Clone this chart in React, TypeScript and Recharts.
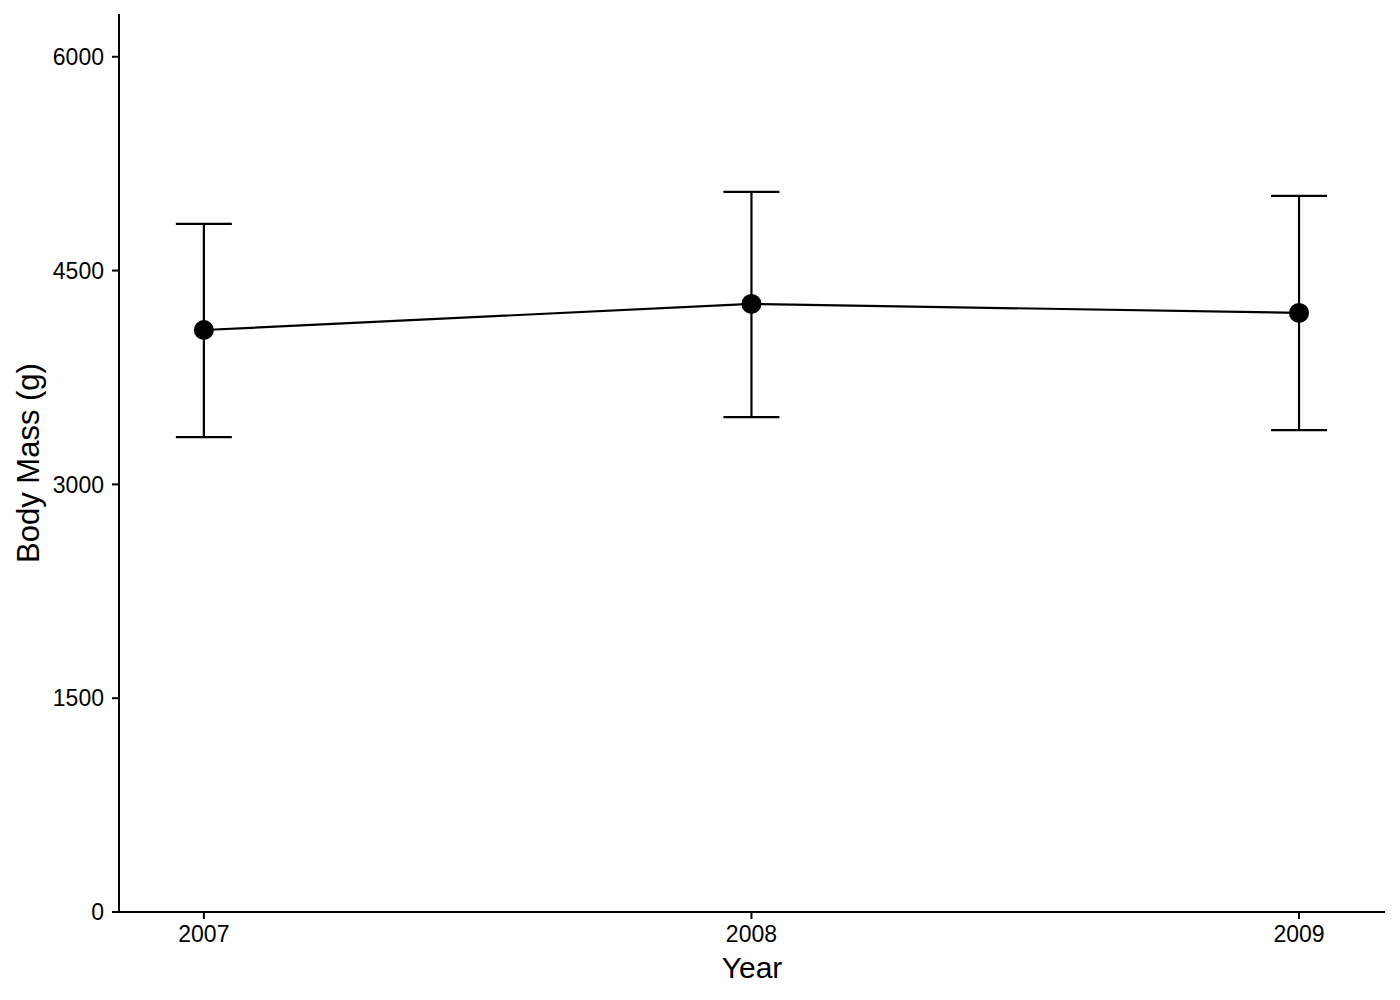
import { CartesianGrid, ComposedChart, ErrorBar, Line, XAxis, YAxis } from "recharts";

const years = [2007, 2008, 2009];
const meanMass = [4083, 4266, 4203];
const lowerMass = [3332, 3472, 3381];
const upperMass = [4828, 5052, 5024];

const yTicks = [0, 1500, 3000, 4500, 6000];

const data = years.map((year, i) => ({
  year,
  mass: meanMass[i],
  err: [meanMass[i] - lowerMass[i], upperMass[i] - meanMass[i]],
}));

const font = "'Liberation Sans', Arial, sans-serif";

export default function App() {
  return (
    <div style={{ position: "absolute", left: 0, top: 0, background: "#fff" }}>
      <ComposedChart
        width={1400}
        height={1000}
        data={data}
        margin={{ top: 14, right: 15, bottom: 28, left: 0 }}
      >
        <CartesianGrid stroke="none" />
        <XAxis
          dataKey="year"
          type="number"
          domain={[2006.845, 2009.157]}
          ticks={years}
          allowDataOverflow
          height={60}
          stroke="#000"
          strokeWidth={2}
          tickSize={7}
          tickMargin={7}
          tick={{ fill: "#000", fontSize: 23, fontFamily: font }}
          label={{
            content: ({ viewBox }: any) => (
              <text
                x={viewBox.x + viewBox.width / 2}
                y={viewBox.y + 66}
                textAnchor="middle"
                fontSize={30}
                fontFamily={font}
                fill="#000"
              >
                Year
              </text>
            ),
          }}
        />
        <YAxis
          type="number"
          domain={[0, 6300]}
          ticks={yTicks}
          allowDataOverflow
          width={119}
          stroke="#000"
          strokeWidth={2}
          tickSize={7}
          tickMargin={8}
          tick={{ fill: "#000", fontSize: 23, fontFamily: font }}
          label={{
            content: ({ viewBox }: any) => {
              const cx = viewBox.x + 28;
              const cy = viewBox.y + viewBox.height / 2;
              return (
                <text
                  x={cx}
                  y={cy}
                  transform={`rotate(-90 ${cx} ${cy})`}
                  textAnchor="middle"
                  dominantBaseline="central"
                  fontSize={31}
                  fontFamily={font}
                  fill="#000"
                >
                  Body Mass (g)
                </text>
              );
            },
          }}
        />
        <Line
          dataKey="mass"
          stroke="#000"
          strokeWidth={2.2}
          dot={{ r: 10, fill: "#000", stroke: "none" }}
          activeDot={false}
          isAnimationActive={false}
        >
          <ErrorBar dataKey="err" direction="y" width={28} stroke="#000" strokeWidth={2.2} />
        </Line>
      </ComposedChart>
    </div>
  );
}
